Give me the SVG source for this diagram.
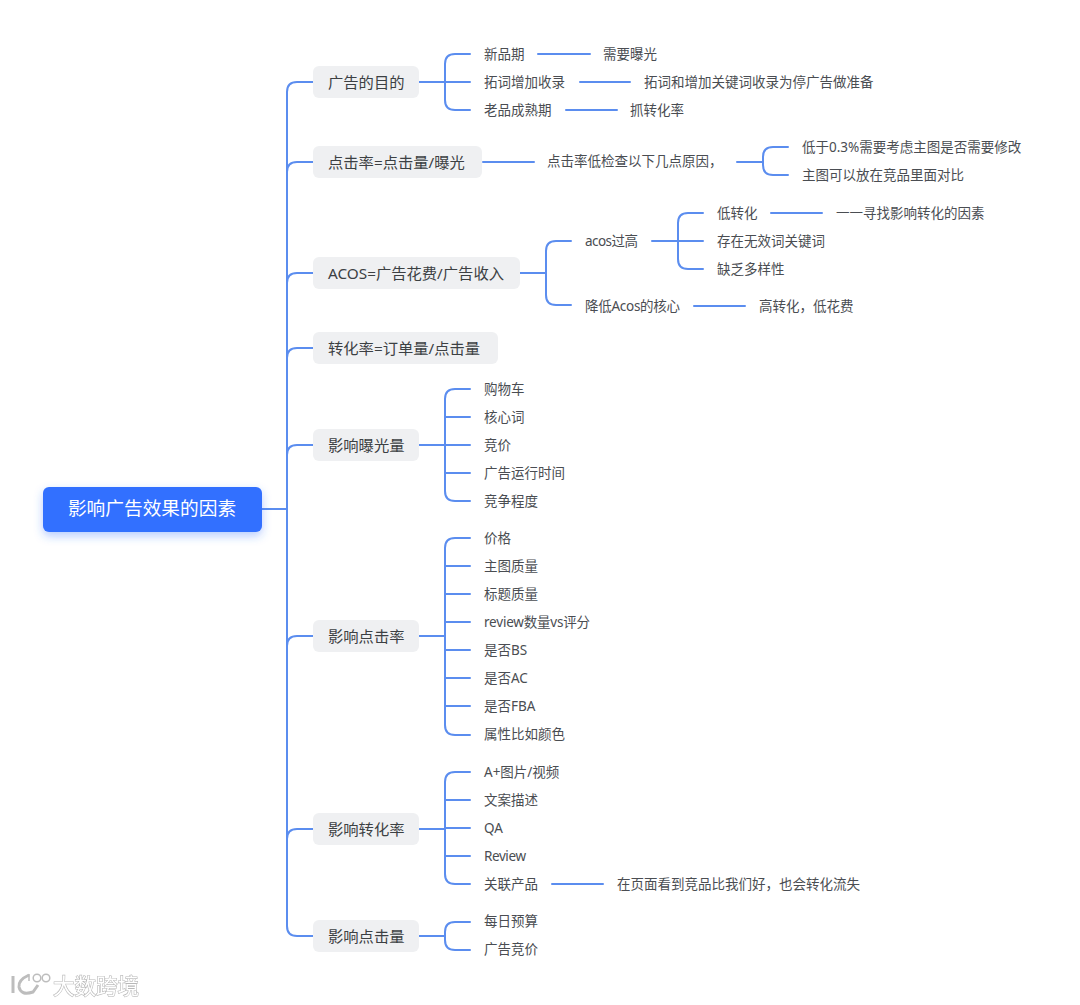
<svg xmlns="http://www.w3.org/2000/svg" width="1080" height="1005" viewBox="0 0 1080 1005">
<style>
text{font-family:"Noto Sans","Noto Sans CJK SC",sans-serif;dominant-baseline:central}
.r{font-size:18.7px;fill:#fff;text-anchor:middle}
.m{font-size:15.3px;fill:#3c4043}
.l{font-size:13.5px;fill:#4a4d52}
.b{fill:#eff0f2}
#connectors path{fill:none;stroke:#5b8def;stroke-width:2;stroke-linecap:round}
.wm{font-size:21.5px;fill:#fff;stroke:#b8b8b8;stroke-width:1.2;paint-order:stroke}
</style>
<defs><filter id="s" x="-20%" y="-50%" width="140%" height="220%"><feDropShadow dx="0" dy="4" stdDeviation="5" flood-color="#3370ff" flood-opacity=".35"/></filter>
<filter id="w" x="-5%" y="-20%" width="110%" height="140%"><feGaussianBlur stdDeviation=".4"/></filter></defs>
<rect width="1080" height="1005" fill="#fff"/>
<g id="connectors">
<path d="M262 509H287"/>
<path d="M313 82H297Q287 82 287 92V926Q287 936 297 936H313"/>
<path d="M313 162H297Q287 162 287 172"/>
<path d="M313 273H297Q287 273 287 283"/>
<path d="M313 348H297Q287 348 287 358"/>
<path d="M313 445H297Q287 445 287 455"/>
<path d="M313 636H297Q287 636 287 646"/>
<path d="M313 829H297Q287 829 287 839"/>
<path d="M419 82H470M470 54H455Q445 54 445 64V100Q445 110 455 110H470"/>
<path d="M538 54H590M580 82H630M566 110H617"/>
<path d="M483 162H534M737 162H762M788 147H773Q763 147 763 157V165Q763 175 773 175H788"/>
<path d="M520 273H545M571 241H556Q546 241 546 251V295Q546 305 556 305H571"/>
<path d="M652 241H703M703 213H688Q678 213 678 223V259Q678 269 688 269H703"/>
<path d="M771 213H822M694 306H745"/>
<path d="M419 445H445M470 389H455Q445 389 445 399V491Q445 501 455 501H470M445 417H470M445 445H470M445 473H470"/>
<path d="M419 636H445M470 538H455Q445 538 445 548V725Q445 735 455 735H470M445 566H470M445 594H470M445 622H470M445 650H470M445 678H470M445 706H470"/>
<path d="M419 829H445M470 772H455Q445 772 445 782V874Q445 884 455 884H470M445 800H470M445 828H470M445 856H470"/>
<path d="M552 884H603"/>
<path d="M419 936H445M470 922H455Q445 922 445 932V940Q445 950 455 950H470"/>
</g>
<g id="root"><rect x="43" y="487" width="219" height="45" rx="6" fill="#3370ff" filter="url(#s)"/><text class="r" x="152" y="507.500">影响广告效果的因素</text></g>
<g id="n-goal"><rect class="b" x="313" y="66" width="106" height="32" rx="6"/><text class="m" x="328" y="81.500">广告的目的</text></g>
<g id="n-ctr"><rect class="b" x="313" y="146" width="169" height="32" rx="6"/><text class="m" x="328" y="161.500">点击率=点击量/曝光</text></g>
<g id="n-acos"><rect class="b" x="313" y="257" width="207" height="32" rx="6"/><text class="m" x="328" y="272.500">ACOS=广告花费/广告收入</text></g>
<g id="n-cvr"><rect class="b" x="313" y="332" width="185" height="32" rx="6"/><text class="m" x="328" y="347.500">转化率=订单量/点击量</text></g>
<g id="n-imp"><rect class="b" x="313" y="429" width="106" height="32" rx="6"/><text class="m" x="328" y="444.500">影响曝光量</text></g>
<g id="n-ictr"><rect class="b" x="313" y="620" width="106" height="32" rx="6"/><text class="m" x="328" y="635.500">影响点击率</text></g>
<g id="n-icvr"><rect class="b" x="313" y="813" width="106" height="32" rx="6"/><text class="m" x="328" y="828.500">影响转化率</text></g>
<g id="n-iclk"><rect class="b" x="313" y="920" width="106" height="32" rx="6"/><text class="m" x="328" y="935.500">影响点击量</text></g>
<g id="leaves">
<g id="l1"><text class="l" x="484" y="53.500">新品期</text></g>
<g id="l2"><text class="l" x="603" y="53.500">需要曝光</text></g>
<g id="l3"><text class="l" x="484" y="81.500">拓词增加收录</text></g>
<g id="l4"><text class="l" x="644" y="81.500">拓词和增加关键词收录为停广告做准备</text></g>
<g id="l5"><text class="l" x="484" y="109.500">老品成熟期</text></g>
<g id="l6"><text class="l" x="630" y="109.500">抓转化率</text></g>
<g id="l7"><text class="l" x="547" y="161">点击率低检查以下几点原因，</text></g>
<g id="l8"><text class="l" x="802" y="146.500">低于0.3%需要考虑主图是否需要修改</text></g>
<g id="l9"><text class="l" x="802" y="174.500">主图可以放在竞品里面对比</text></g>
<g id="l10"><text class="l" x="585" y="240.500" textLength="53">acos过高</text></g>
<g id="l11"><text class="l" x="717" y="212.500">低转化</text></g>
<g id="l12"><text class="l" x="836" y="212.500">一一寻找影响转化的因素</text></g>
<g id="l13"><text class="l" x="717" y="240.500">存在无效词关键词</text></g>
<g id="l14"><text class="l" x="717" y="268.500">缺乏多样性</text></g>
<g id="l15"><text class="l" x="585" y="305.500" textLength="95">降低Acos的核心</text></g>
<g id="l16"><text class="l" x="759" y="305.500">高转化，低花费</text></g>
<g id="l17"><text class="l" x="484" y="388.500">购物车</text></g>
<g id="l18"><text class="l" x="484" y="416.500">核心词</text></g>
<g id="l19"><text class="l" x="484" y="444.500">竞价</text></g>
<g id="l20"><text class="l" x="484" y="472.500">广告运行时间</text></g>
<g id="l21"><text class="l" x="484" y="500.500">竞争程度</text></g>
<g id="l22"><text class="l" x="484" y="537.500">价格</text></g>
<g id="l23"><text class="l" x="484" y="565.500">主图质量</text></g>
<g id="l24"><text class="l" x="484" y="593.500">标题质量</text></g>
<g id="l25"><text class="l" x="484" y="621.500" textLength="106">review数量vs评分</text></g>
<g id="l26"><text class="l" x="484" y="649.500">是否BS</text></g>
<g id="l27"><text class="l" x="484" y="677.500">是否AC</text></g>
<g id="l28"><text class="l" x="484" y="705.500">是否FBA</text></g>
<g id="l29"><text class="l" x="484" y="733.500">属性比如颜色</text></g>
<g id="l30"><text class="l" x="484" y="771.500">A+图片/视频</text></g>
<g id="l31"><text class="l" x="484" y="799.500">文案描述</text></g>
<g id="l32"><text class="l" x="484" y="827.500">QA</text></g>
<g id="l33"><text class="l" x="484" y="855.500" textLength="42">Review</text></g>
<g id="l34"><text class="l" x="484" y="883.500">关联产品</text></g>
<g id="l35"><text class="l" x="617" y="883.500">在页面看到竞品比我们好，也会转化流失</text></g>
<g id="l36"><text class="l" x="484" y="921">每日预算</text></g>
<g id="l37"><text class="l" x="484" y="949">广告竞价</text></g>
</g>
<g id="watermark" filter="url(#w)">
<path d="M13 976V993" fill="none" stroke="#bdbdbd" stroke-width="3"/>
<path d="M29 975Q18 980 19 987Q21 996 33 992L38 985" fill="none" stroke="#bdbdbd" stroke-width="3"/>
<path d="M29 974V981" stroke="#bdbdbd" stroke-width="1.500"/>
<circle cx="37" cy="978" r="3.800" fill="none" stroke="#bdbdbd" stroke-width="1.500"/>
<circle cx="46" cy="978" r="3.800" fill="none" stroke="#bdbdbd" stroke-width="1.500"/>
<text class="wm" x="53" y="985">大数跨境</text>
</g>
</svg>
